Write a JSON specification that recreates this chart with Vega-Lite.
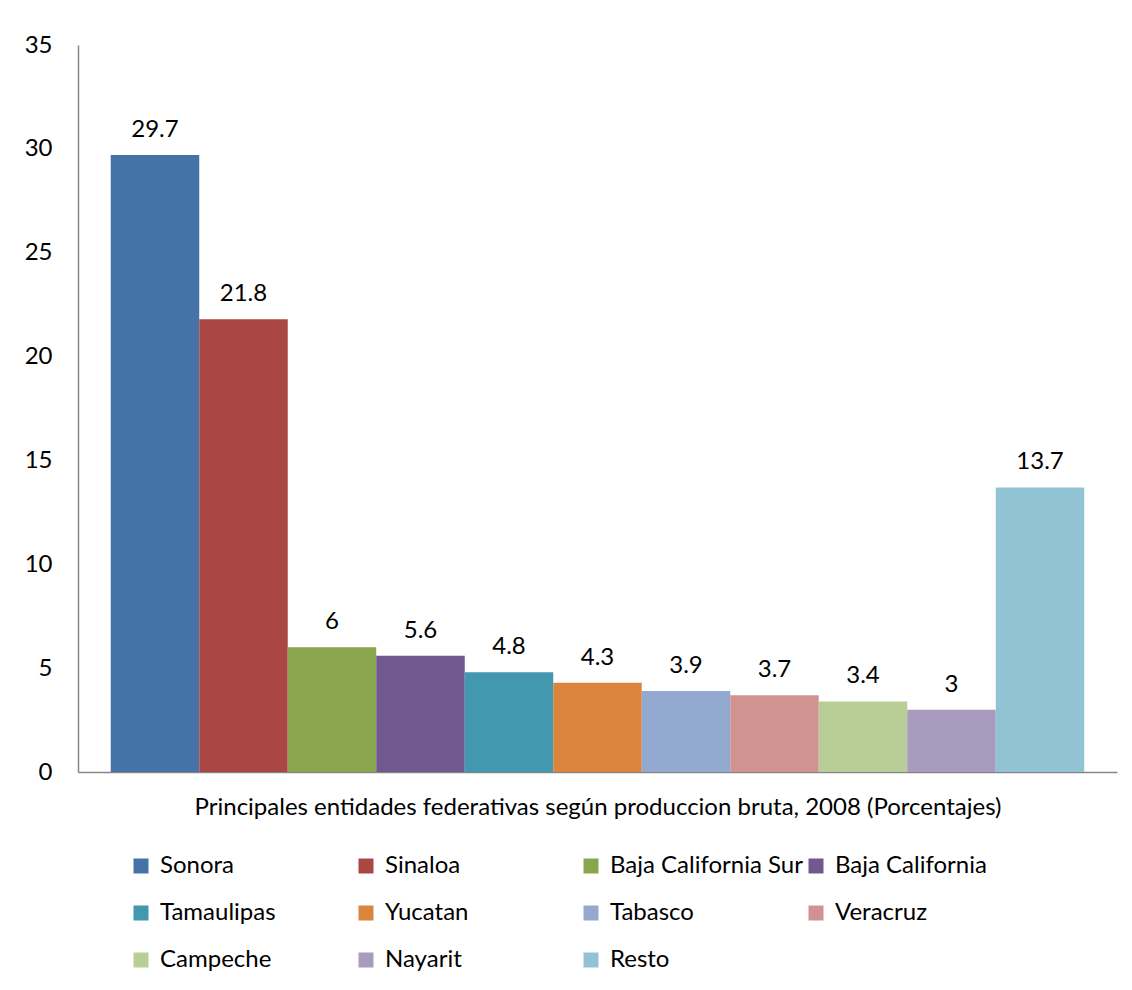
{
  "$schema": "https://vega.github.io/schema/vega-lite/v6.json",
  "width": 1039,
  "height": 727,
  "autosize": {"type": "none"},
  "padding": {"left": 78, "top": 45, "right": 15, "bottom": 218},
  "background": "#ffffff",
  "config": {
    "view": {"stroke": null},
    "font": "Lato",
    "axis": {"labelFont": "Lato", "titleFont": "Lato"},
    "legend": {"labelFont": "Lato"}
  },
  "data": {
    "values": [
      {"entidad": "Sonora", "valor": 29.7},
      {"entidad": "Sinaloa", "valor": 21.8},
      {"entidad": "Baja California Sur", "valor": 6},
      {"entidad": "Baja California", "valor": 5.6},
      {"entidad": "Tamaulipas", "valor": 4.8},
      {"entidad": "Yucatan", "valor": 4.3},
      {"entidad": "Tabasco", "valor": 3.9},
      {"entidad": "Veracruz", "valor": 3.7},
      {"entidad": "Campeche", "valor": 3.4},
      {"entidad": "Nayarit", "valor": 3},
      {"entidad": "Resto", "valor": 13.7}
    ]
  },
  "encoding": {
    "x": {
      "field": "entidad",
      "type": "nominal",
      "sort": null,
      "scale": {"paddingInner": 0, "paddingOuter": 0.37},
      "axis": {
        "title": "Principales entidades federativas según produccion bruta, 2008 (Porcentajes)",
        "titleFontSize": 24,
        "titleFontWeight": "normal",
        "titleColor": "#000000",
        "titlePadding": 23,
        "labels": false,
        "ticks": false,
        "domainColor": "#868686",
        "domainWidth": 1.5
      }
    },
    "y": {
      "field": "valor",
      "type": "quantitative",
      "scale": {"domain": [0, 35], "nice": false},
      "axis": {
        "title": null,
        "values": [0, 5, 10, 15, 20, 25, 30, 35],
        "grid": false,
        "ticks": false,
        "labelFontSize": 24,
        "labelColor": "#000000",
        "labelPadding": 26,
        "domainColor": "#868686",
        "domainWidth": 1.5
      }
    }
  },
  "layer": [
    {
      "mark": {"type": "bar"},
      "encoding": {
        "color": {
          "field": "entidad",
          "type": "nominal",
          "sort": null,
          "scale": {
            "domain": ["Sonora", "Sinaloa", "Baja California Sur", "Baja California", "Tamaulipas", "Yucatan", "Tabasco", "Veracruz", "Campeche", "Nayarit", "Resto"],
            "range": ["#4572A7", "#AA4643", "#89A54E", "#71588F", "#4198AF", "#DB843D", "#93A9CF", "#D19392", "#B9CD96", "#A99BBD", "#92C3D5"]
          },
          "legend": {
            "title": null,
            "orient": "none",
            "legendX": 51,
            "legendY": 809,
            "direction": "horizontal",
            "columns": 4,
            "gridAlign": "all",
            "columnPadding": 1,
            "rowPadding": 23,
            "symbolType": "square",
            "symbolSize": 225,
            "symbolStrokeWidth": 0,
            "symbolOpacity": 1,
            "labelFontSize": 24,
            "labelColor": "#000000",
            "labelOffset": 7,
            "labelLimit": 300
          }
        }
      }
    },
    {
      "mark": {"type": "text", "fontSize": 24, "color": "#000000", "baseline": "alphabetic", "dy": -18},
      "encoding": {
        "text": {"field": "valor", "type": "quantitative"}
      }
    }
  ]
}
